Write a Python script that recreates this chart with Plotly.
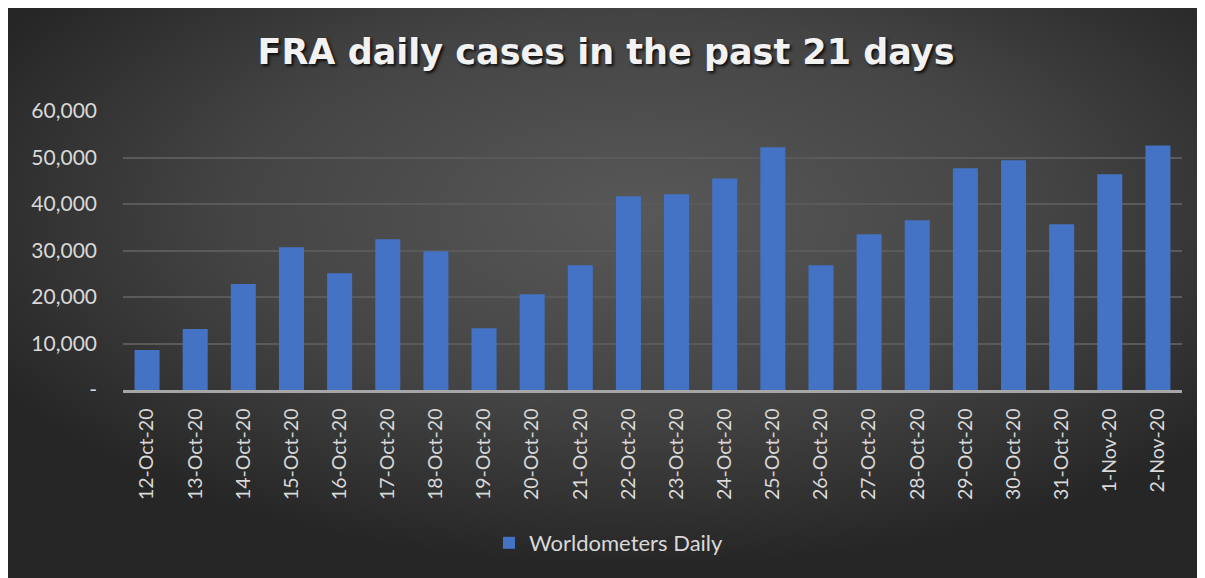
import base64
import plotly.graph_objects as go

dates = ["12-Oct-20", "13-Oct-20", "14-Oct-20", "15-Oct-20", "16-Oct-20", "17-Oct-20",
         "18-Oct-20", "19-Oct-20", "20-Oct-20", "21-Oct-20", "22-Oct-20", "23-Oct-20",
         "24-Oct-20", "25-Oct-20", "26-Oct-20", "27-Oct-20", "28-Oct-20", "29-Oct-20",
         "30-Oct-20", "31-Oct-20", "1-Nov-20", "2-Nov-20"]
daily_cases = [8600, 13100, 22770, 30700, 25100, 32400, 29850, 13300, 20600, 26850,
               41650, 42100, 45500, 52200, 26850, 33500, 36500, 47700, 49400, 35650,
               46400, 52600]
y_tickvals = [0, 10000, 20000, 30000, 40000, 50000, 60000]
y_ticktext = ["-", "10,000", "20,000", "30,000", "40,000", "50,000", "60,000"]
series_name = "Worldometers Daily"
title_text = "FRA daily cases in the past 21 days"

# page body has an 8px margin; figure sized to fill the rest of the window
W, H = 1197, 570
L, R, T, B = 115, 23, 103, 188
pw, ph = W - L - R, H - T - B

svg = (
    '<svg xmlns="http://www.w3.org/2000/svg" width="1197" height="570" preserveAspectRatio="none">'
    '<defs><radialGradient id="g" cx="0.53" cy="0.36" r="0.62" gradientUnits="objectBoundingBox">'
    '<stop offset="0" stop-color="#585858"/><stop offset="0.55" stop-color="#444444"/>'
    '<stop offset="1" stop-color="#262626"/></radialGradient></defs>'
    '<rect x="0" y="0" width="1197" height="570" fill="url(#g)"/></svg>'
)
bg_src = "data:image/svg+xml;base64," + base64.b64encode(svg.encode()).decode()

fig = go.Figure()
fig.add_trace(go.Bar(
    x=dates, y=daily_cases, name=series_name,
    marker=dict(color="#4472C4", line=dict(width=0)),
))

fig.update_layout(
    width=W, height=H,
    margin=dict(l=L, r=R, t=T, b=B, autoexpand=False),
    paper_bgcolor="#333333",
    plot_bgcolor="rgba(0,0,0,0)",
    bargap=0.48,
    font=dict(family="Lato, Carlito, sans-serif", color="#d9d9d9"),
    title=dict(
        text="<b>" + title_text + "</b>",
        x=(598 - L) / pw, xanchor="center", xref="paper",
        y=(H - 44) / H, yanchor="middle", yref="container",
        font=dict(family="DejaVu Sans, sans-serif", size=35, color="#f2f2f2",
                  shadow="2px 2px 3px rgba(0,0,0,0.8)"),
    ),
    showlegend=True,
    legend=dict(
        orientation="h", x=(601 - L) / pw, xanchor="center",
        y=(H - B - 535) / ph, yanchor="middle",
        font=dict(size=22, color="#d9d9d9"), bgcolor="rgba(0,0,0,0)",
    ),
    images=[dict(
        source=bg_src, xref="paper", yref="paper",
        x=-L / pw, y=(H - B) / ph,
        sizex=W / pw, sizey=H / ph,
        xanchor="left", yanchor="top", sizing="stretch", layer="below",
    )],
)

fig.update_xaxes(
    tickangle=-90, tickfont=dict(size=19.5, color="#d9d9d9"),
    showline=True, linecolor="#a6a6a6", linewidth=2.5,
    showgrid=False, ticks="", ticklabelstandoff=8,
)
fig.update_yaxes(
    range=[0, 60000], tickvals=y_tickvals, ticktext=y_ticktext,
    tickfont=dict(size=21, color="#d9d9d9"),
    showgrid=True, gridcolor="#5a5a5a", gridwidth=1.5,
    zeroline=False, showline=False, ticks="", ticklabelstandoff=25,
)

fig.write_html("out.html")
